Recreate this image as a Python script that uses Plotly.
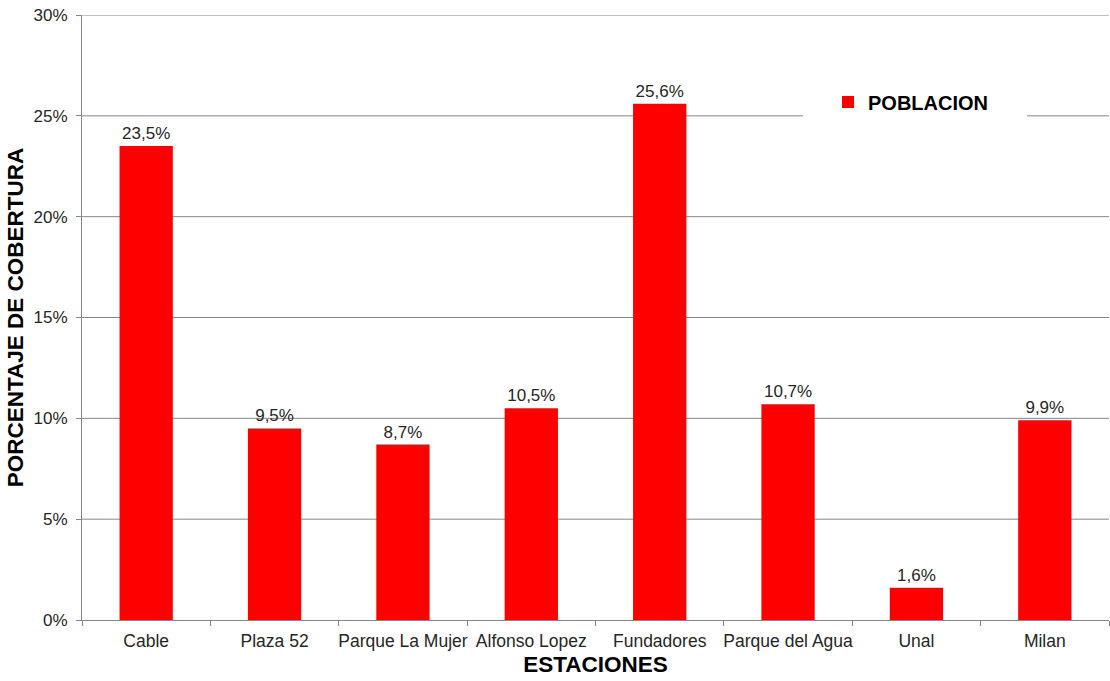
import plotly.graph_objects as go

categories = ["Cable", "Plaza 52", "Parque La Mujer", "Alfonso Lopez", "Fundadores",
              "Parque del Agua", "Unal", "Milan"]
poblacion = [0.235, 0.095, 0.087, 0.105, 0.256, 0.107, 0.016, 0.099]
y_ticks = [0, 0.05, 0.10, 0.15, 0.20, 0.25, 0.30]

fig = go.Figure()
fig.add_trace(go.Bar(
    x=categories, y=poblacion, name="POBLACION",
    marker=dict(color="#FF0000", line=dict(width=0)),
    texttemplate="%{y:.1%}", textposition="outside", cliponaxis=False,
    textfont=dict(family="Liberation Sans, Arial", size=17, color="#262626"),
))

# gridlines drawn as shapes so the legend's white box can sit over them
for t in y_ticks[1:]:
    fig.add_shape(type="line", xref="x domain", yref="y", x0=0, x1=1, y0=t, y1=t,
                  line=dict(color="#868686", width=1), layer="below")
fig.add_shape(type="rect", xref="x domain", yref="y domain", x0=(803-82)/1027, x1=(1027-82)/1027,
              y0=(620-122)/605, y1=(620-84)/605, fillcolor="white", line=dict(width=0),
              layer="below")

fig.update_layout(
    width=1110, height=681,
    margin=dict(l=82, r=1, t=15, b=61),
    paper_bgcolor="white", plot_bgcolor="white",
    separators=",.",
    bargap=0.585,
    font=dict(family="Liberation Sans, Arial", color="#262626"),
    showlegend=True,
    legend=dict(x=(828-82)/1027, y=(620-102)/605, xanchor="left", yanchor="middle",
                bgcolor="rgba(0,0,0,0)",
                font=dict(family="Liberation Sans, Arial", size=20, color="#000000", weight="bold")),
    xaxis=dict(
        showline=True, linecolor="#868686", linewidth=1,
        ticks="outside", ticklen=5, tickcolor="#868686", tickson="boundaries",
        tickfont=dict(size=17.5, color="#262626"), tickangle=0,
        ticklabelstandoff=5,
        title=dict(text="ESTACIONES", standoff=6,
                   font=dict(size=22.5, color="#000000", weight="bold")),
    ),
    yaxis=dict(
        range=[0, 0.30], tickvals=y_ticks, tickformat=".0%",
        showline=True, linecolor="#868686", linewidth=1,
        showgrid=False,
        ticks="outside", ticklen=5, tickcolor="#868686",
        tickfont=dict(size=17, color="#262626"),
        ticklabelstandoff=5,
        zeroline=False,
        title=dict(text="PORCENTAJE DE COBERTURA", standoff=3,
                   font=dict(size=22.5, color="#000000", weight="bold")),
    ),
)

fig.write_html("out.html")
